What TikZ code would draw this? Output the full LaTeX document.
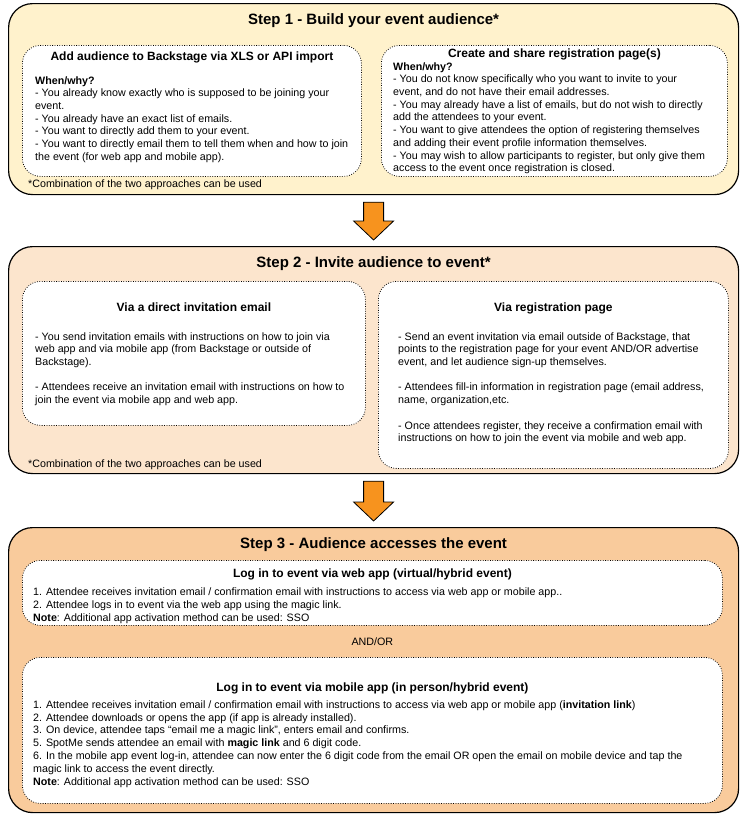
\documentclass[tikz,border=0pt]{standalone}
\usepackage{fontspec}
\setmainfont{Liberation Sans}
\usetikzlibrary{positioning,calc}
\definecolor{stepone}{HTML}{FFF2CC}
\definecolor{steptwo}{HTML}{FCE5CD}
\definecolor{stepthree}{HTML}{F9CB9C}
\definecolor{arroworange}{HTML}{F7931E}
\tikzset{
stepbox/.style={draw,line width=1.2pt,rounded corners=24pt,anchor=north west,inner sep=0pt},
optbox/.style={draw,fill=white,dash pattern=on .8pt off 1.6pt,line width=.8pt,rounded corners=18pt,anchor=north west,inner sep=0pt},
steptitle/.style={font=\fontsize{15}{18}\selectfont\bfseries,inner sep=0pt},
opttitle/.style={font=\fontsize{12}{14}\selectfont\bfseries,inner sep=0pt},
body/.style={font=\fontsize{10.7}{12.7}\selectfont,align=left,anchor=north west,inner sep=0pt},
footnote/.style={font=\fontsize{10.7}{12}\selectfont,anchor=west,inner sep=0pt},
blockarrow/.style={draw,fill=arroworange,line width=.8pt,line join=miter}
}
\begin{document}
\begin{tikzpicture}[x=1pt,y=-1pt]
\useasboundingbox (0,0) rectangle (744,817);
% step boxes
\node[stepbox,fill=stepone,minimum width=730pt,minimum height=191pt](s1) at (8,3){};
\node[stepbox,fill=steptwo,minimum width=730pt,minimum height=227pt](s2) at (8,246){};
\node[stepbox,fill=stepthree,minimum width=730pt,minimum height=285pt](s3) at (8,527){};
\node[steptitle,below=10pt of s1.north](t1){Step 1 - Build your event audience*};
\node[steptitle,below=10pt of s2.north](t2){Step 2 - Invite audience to event*};
\node[steptitle,below=10pt of s3.north](t3){Step 3 - Audience accesses the event};
% step 1
\node[optbox,minimum width=339pt,minimum height=131pt](imp) at (22,45){};
\node[optbox,minimum width=346pt,minimum height=131pt](reg) at (381,45){};
\node[opttitle,below=6.5pt of imp.north](impt){Add audience to Backstage via XLS or API import};
\node[opttitle,below=3.5pt of reg.north](regt){Create and share registration page(s)};
\node[body](impb) at ($(imp.north west)+(13,31.2)$){\textbf{When/why?}\\
- You already know exactly who is supposed to be joining your\\
event.\\
- You already have an exact list of emails.\\
- You want to directly add them to your event.\\
- You want to directly email them to tell them when and how to join\\
the event (for web app and mobile app).};
\node[body](regb) at ($(reg.north west)+(12,17.2)$){\textbf{When/why?}\\
- You do not know specifically who you want to invite to your\\
event, and do not have their email addresses.\\
- You may already have a list of emails, but do not wish to directly\\
add the attendees to your event.\\
- You want to give attendees the option of registering themselves\\
and adding their event profile information themselves.\\
- You may wish to allow participants to register, but only give them\\
access to the event once registration is closed.};
\node[footnote](f1) at ($(s1.south west)+(20,-10)$){*Combination of the two approaches can be used};
% step 2
\node[optbox,minimum width=343pt,minimum height=144pt](mail) at (22,281){};
\node[optbox,minimum width=350pt,minimum height=187pt](page) at (378,281){};
\node[opttitle,below=21.5pt of mail.north](mailt){Via a direct invitation email};
\node[opttitle,below=21.5pt of page.north](paget){Via registration page};
\node[body](mailb) at ($(mail.north west)+(13,51.2)$){- You send invitation emails with instructions on how to join via\\
web app and via mobile app (from Backstage or outside of\\
Backstage).\\[12.7pt]
- Attendees receive an invitation email with instructions on how to\\
join the event via mobile app and web app.};
\node[body](pageb) at ($(page.north west)+(20,51.2)$){- Send an event invitation via email outside of Backstage, that\\
points to the registration page for your event AND/OR advertise\\
event, and let audience sign-up themselves.\\[12.7pt]
- Attendees fill-in information in registration page (email address,\\
name, organization,etc.\\[12.7pt]
- Once attendees register, they receive a confirmation email with\\
instructions on how to join the event via mobile and web app.};
\node[footnote](f2) at ($(s2.south west)+(20,-9)$){*Combination of the two approaches can be used};
% step 3
\node[optbox,minimum width=700pt,minimum height=65pt](web) at (22,560){};
\node[optbox,minimum width=700pt,minimum height=146pt](app) at (22,657){};
\node[opttitle,below=8.5pt of web.north](webt){Log in to event via web app (virtual/hybrid event)};
\node[opttitle,below=25.5pt of app.north](appt){Log in to event via mobile app (in person/hybrid event)};
\node[body,font=\fontsize{10.7}{13}\selectfont](webb) at ($(web.north west)+(11,27.2)$){1. Attendee receives invitation email / confirmation email with instructions to access via web app or mobile app..\\
2. Attendee logs in to event via the web app using the magic link.\\
\textbf{Note}: Additional app activation method can be used: SSO};
\node[font=\fontsize{10.7}{12}\selectfont,inner sep=0pt](andor) at ($(web.south)!.5!(app.north)$){AND/OR};
\node[body,font=\fontsize{10.7}{12.85}\selectfont](appb) at ($(app.north west)+(11,43.2)$){1. Attendee receives invitation email / confirmation email with instructions to access via web app or mobile app (\textbf{invitation link})\\
2. Attendee downloads or opens the app (if app is already installed).\\
3. On device, attendee taps “email me a magic link”, enters email and confirms.\\
5. SpotMe sends attendee an email with \textbf{magic link} and 6 digit code.\\
6. In the mobile app event log-in, attendee can now enter the 6 digit code from the email OR open the email on mobile device and tap the\\
magic link to access the event directly.\\
\textbf{Note}: Additional app activation method can be used: SSO};
% arrows between steps
\foreach \a/\b in {s1/s2,s2/s3}
  \draw[blockarrow]($(\a.south)+(-10,7)$)--++(20,0)--($(\b.north)+(10,-25)$)--++(10,0)
    --($(\b.north)+(0,-6)$)--($(\b.north)+(-20,-25)$)--++(10,0)--cycle;
\end{tikzpicture}
\end{document}
